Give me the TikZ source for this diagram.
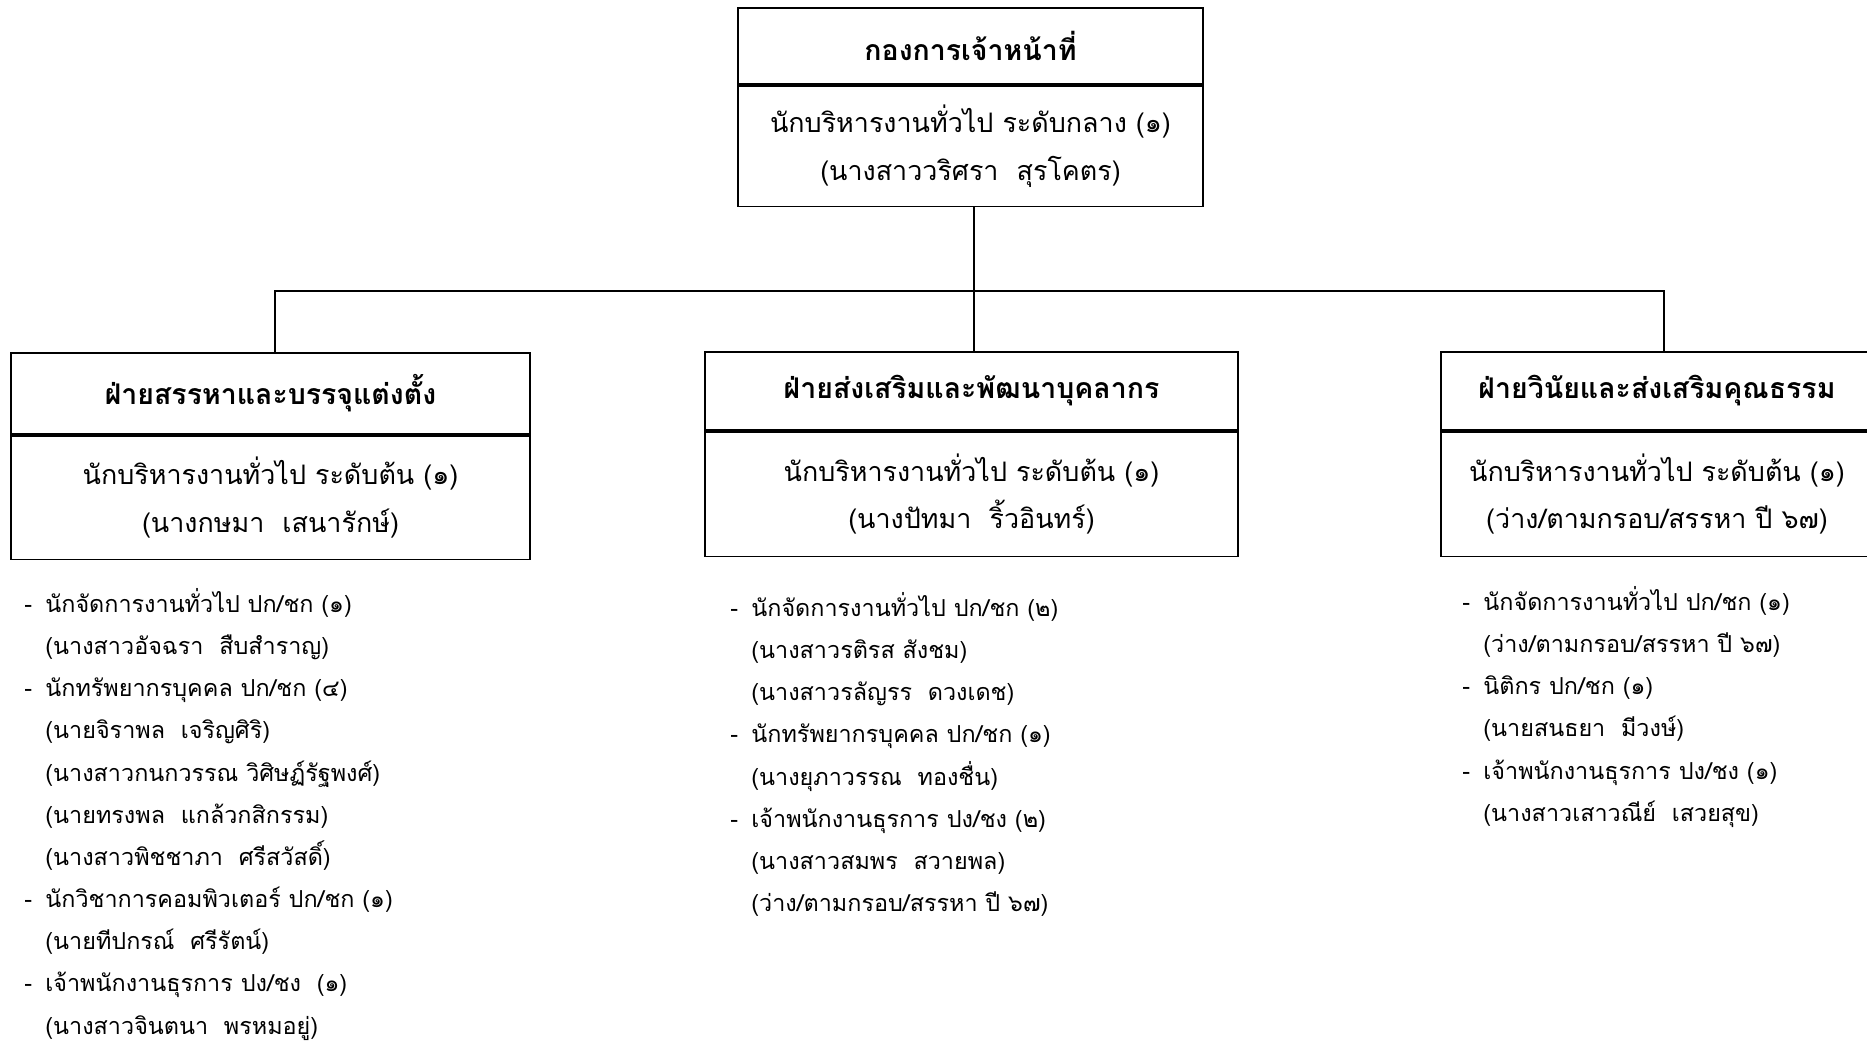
\documentclass[tikz,border=0pt]{standalone}
\usepackage{fontspec}
\setmainfont[Script=Thai]{Loma}
\usetikzlibrary{positioning}

\begin{document}
\begin{tikzpicture}[x=0.02cm, y=-0.02cm,
    headbox/.style={draw, line width=1pt, font=\fontsize{16.2}{27}\selectfont\bfseries, inner sep=0pt, anchor=north},
    bodybox/.style={draw, line width=1pt, font=\fontsize{15.3}{27}\selectfont, align=center, inner sep=0pt},
    duties/.style={font=\fontsize{13.3}{24}\selectfont, align=left, anchor=north west, inner sep=0pt}]
        \newcommand{\itm}[1]{\makebox[12pt][l]{-}#1}
        \newcommand{\sub}[1]{\hspace*{12pt}#1}
        \useasboundingbox (0,0) rectangle (1867,1046);

        % Head office
        \node[headbox, minimum width=9.3cm, minimum height=1.52cm] (hq) at (970.5,7) {กองการเจ้าหน้าที่};
        \node[bodybox, minimum width=9.3cm, minimum height=2.42cm, below=0pt of hq] (hqbody)
            {นักบริหารงานทั่วไป ระดับกลาง (๑)\\(นางสาววริศรา~~สุรโคตร)};

        % Sections
        \node[headbox, minimum width=10.38cm, minimum height=1.62cm] (rec) at (270.5,352) {ฝ่ายสรรหาและบรรจุแต่งตั้ง};
        \node[bodybox, minimum width=10.38cm, minimum height=2.48cm, below=0pt of rec] (recbody)
            {นักบริหารงานทั่วไป ระดับต้น (๑)\\(นางกษมา~~เสนารักษ์)};

        \node[headbox, minimum width=10.66cm, minimum height=1.56cm] (dev) at (971.5,351) {ฝ่ายส่งเสริมและพัฒนาบุคลากร};
        \node[bodybox, minimum width=10.66cm, minimum height=2.5cm, below=0pt of dev] (devbody)
            {นักบริหารงานทั่วไป ระดับต้น (๑)\\(นางปัทมา~~ริ้วอินทร์)};

        \node[headbox, minimum width=8.64cm, minimum height=1.56cm] (disc) at (1657,351) {ฝ่ายวินัยและส่งเสริมคุณธรรม};
        \node[bodybox, minimum width=8.64cm, minimum height=2.5cm, below=0pt of disc] (discbody)
            {นักบริหารงานทั่วไป ระดับต้น (๑)\\(ว่าง/ตามกรอบ/สรรหา ปี ๖๗)};

        % Connectors
        \coordinate (hub) at (974,291);
        \draw[line width=1pt] (hqbody.south -| hub) -- (hub);
        \draw[line width=1pt] ([xshift=0.09cm]rec.north) |- (hub) -| ([xshift=0.14cm]disc.north);
        \draw[line width=1pt] (hub) -- (dev.north -| hub);

        % Staff lists
        \node[duties] (reclist) at (24,588) {%
            \itm{นักจัดการงานทั่วไป ปก/ชก (๑)}\\
            \sub{(นางสาวอัจฉรา~~สืบสำราญ)}\\
            \itm{นักทรัพยากรบุคคล ปก/ชก (๔)}\\
            \sub{(นายจิราพล~~เจริญศิริ)}\\
            \sub{(นางสาวกนกวรรณ วิศิษฏ์รัฐพงศ์)}\\
            \sub{(นายทรงพล~~แกล้วกสิกรรม)}\\
            \sub{(นางสาวพิชชาภา~~ศรีสวัสดิ์)}\\
            \itm{นักวิชาการคอมพิวเตอร์ ปก/ชก (๑)}\\
            \sub{(นายทีปกรณ์~~ศรีรัตน์)}\\
            \itm{เจ้าพนักงานธุรการ ปง/ชง~~(๑)}\\
            \sub{(นางสาวจินตนา~~พรหมอยู่)}};

        \node[duties] (devlist) at (730,592) {%
            \itm{นักจัดการงานทั่วไป ปก/ชก (๒)}\\
            \sub{(นางสาวรติรส สังชม)}\\
            \sub{(นางสาวรลัญรร~~ดวงเดช)}\\
            \itm{นักทรัพยากรบุคคล ปก/ชก (๑)}\\
            \sub{(นางยุภาวรรณ~~ทองชื่น)}\\
            \itm{เจ้าพนักงานธุรการ ปง/ชง (๒)}\\
            \sub{(นางสาวสมพร~~สวายพล)}\\
            \sub{(ว่าง/ตามกรอบ/สรรหา ปี ๖๗)}};

        \node[duties] (disclist) at (1462,586) {%
            \itm{นักจัดการงานทั่วไป ปก/ชก (๑)}\\
            \sub{(ว่าง/ตามกรอบ/สรรหา ปี ๖๗)}\\
            \itm{นิติกร ปก/ชก (๑)}\\
            \sub{(นายสนธยา~~มีวงษ์)}\\
            \itm{เจ้าพนักงานธุรการ ปง/ชง (๑)}\\
            \sub{(นางสาวเสาวณีย์~~เสวยสุข)}};
      \end{tikzpicture}
\end{document}
